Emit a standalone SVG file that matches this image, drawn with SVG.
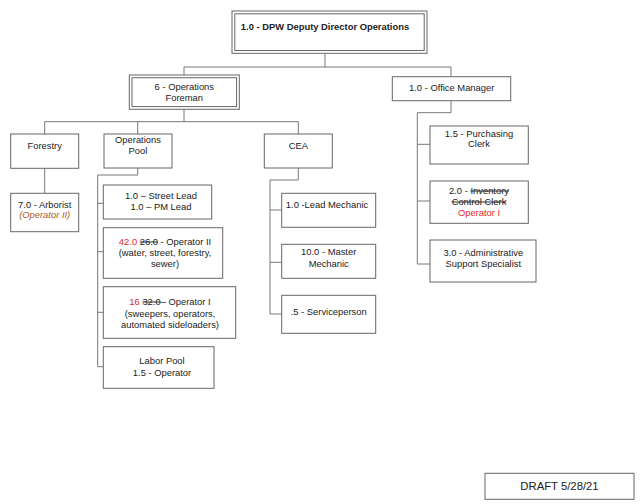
<svg xmlns="http://www.w3.org/2000/svg" width="640" height="504" viewBox="0 0 640 504">
<style>
.b{fill:#fff;stroke:#666;stroke-width:1}
.c{fill:none;stroke:#777;stroke-width:1}
text{font-family:"Liberation Sans",Arial,sans-serif;font-size:9.4px;fill:#222;text-anchor:middle}
.bold{font-weight:bold}
.red{fill:#e8262a}
.brown{fill:#b0552c;font-style:italic}
.s{text-decoration:line-through}
</style>
<rect width="640" height="504" fill="#fff"/>
<g id="connectors">
<path class="c" d="M325,53V67M184,67H451M184,67V75M451,67V76.7"/>
<path class="c" d="M184,109.3V121.7M44.7,121.7H298.3M44.7,121.7V134M137.7,121.7V134M298.3,121.7V134"/>
<path class="c" d="M44.7,168.3V193.3"/>
<path class="c" d="M137.7,168V175H97.7V366.7M97.7,203.3H103.3M97.7,251.7H103.3M97.7,312.3H103.3M97.7,366.7H103.3"/>
<path class="c" d="M298.3,168V180H270V314M270,210H281.7M270,262.3H281.7M270,314H281.7"/>
<path class="c" d="M451,100.7V112.7H417.3V264M417.3,144.3H430M417.3,201H430M417.3,264H430"/>
</g>
<g id="director">
<rect class="b" x="232" y="11" width="195" height="42.3"/>
<rect class="b" x="234.8" y="13.8" width="189.4" height="36.7"/>
<text class="bold" x="325" y="30">1.0 - DPW Deputy Director Operations</text>
</g>
<g id="foreman">
<rect class="b" x="129.3" y="75" width="110" height="34.3"/>
<rect class="b" x="132" y="77.7" width="104.6" height="28.9"/>
<text x="184.3" y="90">6 - Operations</text>
<text x="184.3" y="100.8">Foreman</text>
</g>
<g id="office-manager">
<rect class="b" x="392.3" y="76.7" width="118.4" height="24"/>
<text x="451.7" y="91">1.0 - Office Manager</text>
</g>
<g id="forestry">
<rect class="b" x="10.7" y="134" width="68" height="34.3"/>
<text x="44.7" y="149">Forestry</text>
</g>
<g id="operations-pool">
<rect class="b" x="104" y="134" width="68" height="34"/>
<text x="138" y="143.4">Operations</text>
<text x="138" y="154">Pool</text>
</g>
<g id="cea">
<rect class="b" x="264.3" y="134" width="68" height="34"/>
<text x="298.3" y="148.5">CEA</text>
</g>
<g id="arborist">
<rect class="b" x="10.7" y="193.3" width="68" height="38.4"/>
<text x="44.7" y="207.7">7.0 - Arborist</text>
<text class="brown" x="44.7" y="218.4">(Operator II)</text>
</g>
<g id="leads">
<rect class="b" x="103.3" y="185" width="108.4" height="34"/>
<text x="161" y="199">1.0 – Street Lead</text>
<text x="161" y="210.4">1.0 – PM Lead</text>
</g>
<g id="operator-ii">
<rect class="b" x="103.3" y="227.7" width="119.4" height="50.6"/>
<text x="165" y="245"><tspan class="red">42.0</tspan> <tspan class="s">26.0</tspan> - Operator II</text>
<text x="165" y="255.8">(water, street, forestry,</text>
<text x="165" y="267.4">sewer)</text>
</g>
<g id="operator-i">
<rect class="b" x="103.3" y="286.7" width="132.4" height="51.6"/>
<text x="170" y="305"><tspan class="red">16</tspan> <tspan class="s">32.0</tspan>– Operator I</text>
<text x="170" y="316.7">(sweepers, operators,</text>
<text x="170" y="327.8">automated sideloaders)</text>
</g>
<g id="labor-pool">
<rect class="b" x="103.3" y="346.7" width="110.7" height="41.6"/>
<text x="162" y="364.4">Labor Pool</text>
<text x="162" y="376">1.5 - Operator</text>
</g>
<g id="lead-mechanic">
<rect class="b" x="281.7" y="193.3" width="94" height="34"/>
<text x="327" y="207.7">1.0 -Lead Mechanic</text>
</g>
<g id="master-mechanic">
<rect class="b" x="281.7" y="244.3" width="94" height="34"/>
<text x="328.7" y="255">10.0 - Master</text>
<text x="328.7" y="267.4">Mechanic</text>
</g>
<g id="serviceperson">
<rect class="b" x="281.7" y="295.3" width="94" height="38"/>
<text x="328.7" y="315">.5 - Serviceperson</text>
</g>
<g id="purchasing-clerk">
<rect class="b" x="430" y="126" width="98.3" height="38"/>
<text x="479" y="136.7">1.5 - Purchasing</text>
<text x="479" y="147.4">Clerk</text>
</g>
<g id="inventory">
<rect class="b" x="430" y="181" width="98.3" height="42.3"/>
<text x="479" y="194">2.0 - <tspan class="s">Inventory</tspan></text>
<text class="s" x="479" y="205">Control Clerk</text>
<text class="red" x="479" y="216">Operator I</text>
</g>
<g id="admin-support">
<rect class="b" x="430" y="240" width="106" height="42"/>
<text x="483.3" y="255.7">3.0 - Administrative</text>
<text x="483.3" y="266.7">Support Specialist</text>
</g>
<g id="draft">
<rect class="b" x="485" y="473.3" width="149" height="26"/>
<text x="559.5" y="489.7" style="font-size:11.3px">DRAFT 5/28/21</text>
</g>
</svg>
